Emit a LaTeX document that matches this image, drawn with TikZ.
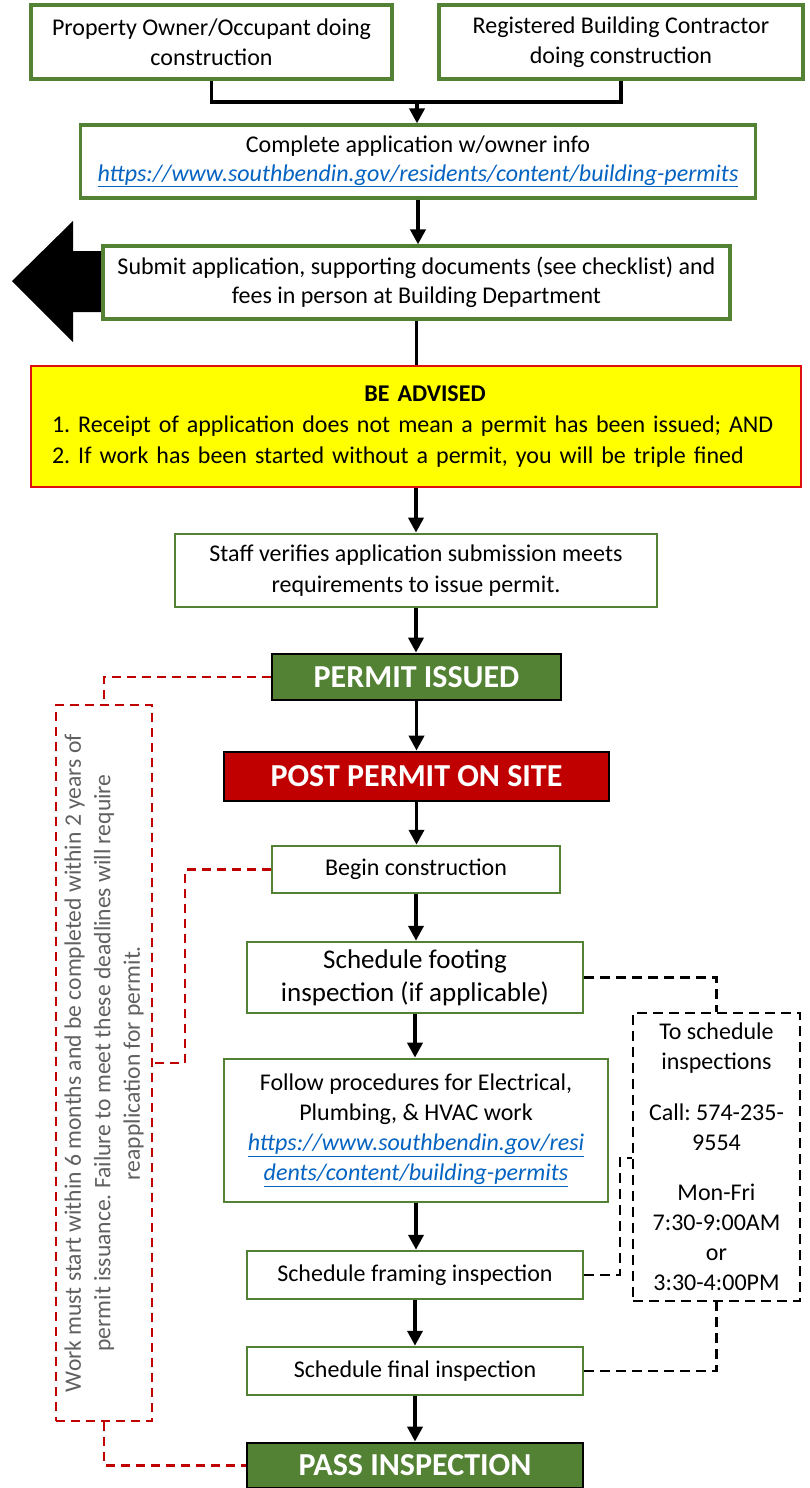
\documentclass[tikz,border=0pt]{standalone}
\usepackage{fontspec}
\setmainfont{Carlito}
\usetikzlibrary{arrows.meta}
\definecolor{boxgreen}{HTML}{548235}
\definecolor{darkred}{HTML}{C00000}
\definecolor{linkblue}{HTML}{0563C1}
\definecolor{advred}{HTML}{E01010}
\definecolor{advyellow}{HTML}{FFFF00}
\definecolor{notegray}{HTML}{606060}
\newcommand{\weblink}[1]{\textcolor{linkblue}{\itshape\underline{#1}}}
\frenchspacing
\begin{document}
\begin{tikzpicture}[x=1pt,y=-1pt,
  base/.style={draw, rectangle, inner sep=0pt, align=center, font=\fontsize{24}{30}\selectfont, fill=white},
  gbox/.style={base, draw=boxgreen, line width=3.2pt},
  gthin/.style={base, draw=boxgreen, line width=2.5pt},
  banner/.style={base, draw=black, line width=2.8pt, text=white, font=\fontsize{32}{36}\selectfont\bfseries},
  conn/.style={line width=3.8pt, draw=black},
  arr/.style={conn, -{Triangle[width=15pt,length=15pt]}},
  reddash/.style={draw=darkred, line width=2.6pt, dash pattern=on 9pt off 6pt},
  blkdash/.style={draw=black, line width=2.6pt, dash pattern=on 10pt off 6pt},
]
\useasboundingbox (0,0) rectangle (809,1488);

% big left arrow behind submit box
\fill[black] (12,281) -- (73,221) -- (73,251) -- (110,251) -- (110,312) -- (73,312) -- (73,342) -- cycle;

\node[gbox, minimum width=361pt, minimum height=74pt] (A) at (211.5,42) {Property Owner/Occupant doing\\construction};
\node[gbox, minimum width=364pt, minimum height=74pt] (B) at (621,42) {Registered Building Contractor\\doing construction};
\node[gbox, minimum width=675pt, minimum height=73pt, font=\fontsize{24}{28.5}\selectfont] (C) at (418,161.5) {Complete application w/owner info\\\weblink{https://www.southbendin.gov/residents/content/building-permits}};
\node[gbox, minimum width=627pt, minimum height=73pt, font=\fontsize{24}{29}\selectfont] (D) at (416.5,282.5) {Submit application, supporting documents (see checklist) and\\fees in person at Building Department};
\node[base, draw=advred, fill=advyellow, line width=2.2pt, minimum width=770pt, minimum height=121pt] (E) at (416,426.5) {};
\node[inner sep=0pt, text width=746pt, align=left, font=\fontsize{24}{31}\selectfont] (Et) at (425,426.5)
  {\makebox[\linewidth]{\bfseries BE ADVISED}\\1. Receipt of application does not mean a permit has been issued; AND\\2. If work has been started without a permit, you will be triple fined};
\node[gbox, line width=2.8pt, minimum width=482pt, minimum height=73pt, font=\fontsize{24}{31}\selectfont] (F) at (416,570.5) {Staff verifies application submission meets\\requirements to issue permit.};
\node[banner, fill=boxgreen, minimum width=289pt, minimum height=46pt] (G) at (416.5,677) {PERMIT ISSUED};
\node[banner, fill=darkred, minimum width=385pt, minimum height=49pt] (H) at (416.5,776.5) {POST PERMIT ON SITE};
\node[gthin, minimum width=288pt, minimum height=47pt] (I) at (416,869.5) {Begin construction};
\node[gthin, minimum width=336pt, minimum height=71pt, font=\fontsize{27}{33}\selectfont] (J) at (415,977.5) {Schedule footing\\inspection (if applicable)};
\node[gthin, line width=2.7pt, minimum width=384pt, minimum height=143pt] (K) at (416,1130.5) {Follow procedures for Electrical,\\Plumbing, \& HVAC work\\\weblink{https://www.southbendin.gov/resi}\\\weblink{dents/content/building-permits}};
\node[gthin, minimum width=336pt, minimum height=48pt] (L) at (415,1275) {Schedule framing inspection};
\node[gthin, minimum width=336pt, minimum height=48pt] (M) at (415,1371) {Schedule final inspection};
\node[banner, fill=boxgreen, minimum width=336pt, minimum height=45pt] (N) at (415,1465.5) {PASS INSPECTION};

% schedule info box
\node[base, blkdash, fill=none, minimum width=167pt, minimum height=288pt] (O) at (716.5,1157)
  {To schedule\\inspections\\[21pt]Call: 574-235-\\9554\\[20pt]Mon-Fri\\7:30-9:00AM\\or\\3:30-4:00PM};

% deadline note box
\node[base, reddash, fill=none, minimum width=96pt, minimum height=716pt] (R) at (104,1063) {};
\node[inner sep=0pt, rotate=90, align=center, text=notegray, font=\fontsize{23.6}{29.5}\selectfont] (Rt) at (104,1063)
  {Work must start within 6 months and be completed within 2 years of\\permit issuance.  Failure to meet these deadlines will require\\reapplication for permit.};

% main connectors
\coordinate (jn) at (417,102);
\draw[conn] (A.south) |- (jn);
\draw[conn] (B.south) |- (jn);
\draw[arr] (jn) -- (jn |- C.north);
\draw[arr] (C.south) -- (C.south |- D.north);
\draw[conn] (D.south) -- (D.south |- E.north);
\draw[arr] (E.south) -- (E.south |- F.north);
\draw[arr] (F.south) -- (F.south |- G.north);
\draw[arr] (G.south) -- (G.south |- H.north);
\draw[arr] (H.south) -- (H.south |- I.north);
\draw[arr] (I.south) -- (I.south |- J.north);
\draw[arr] (J.south) -- (J.south |- K.north);
\draw[arr] (K.south) -- (K.south |- L.north);
\draw[arr] (L.south) -- (L.south |- M.north);
\draw[arr] (M.south) -- (M.south |- N.north);

% red dashed links
\draw[reddash] (G.west) -| (R.north);
\coordinate (ri) at (185,1063);
\draw[reddash] (I.west) -| (ri) -- (R.east);
\draw[reddash] (R.south) |- (N.west);

% black dashed links
\draw[blkdash] (J.east) -| (O.north);
\coordinate (lb) at (620,1158);
\draw[blkdash] (L.east) -| (lb) -- (lb -| O.west);
\draw[blkdash] (M.east) -| (O.south);
\end{tikzpicture}
\end{document}
